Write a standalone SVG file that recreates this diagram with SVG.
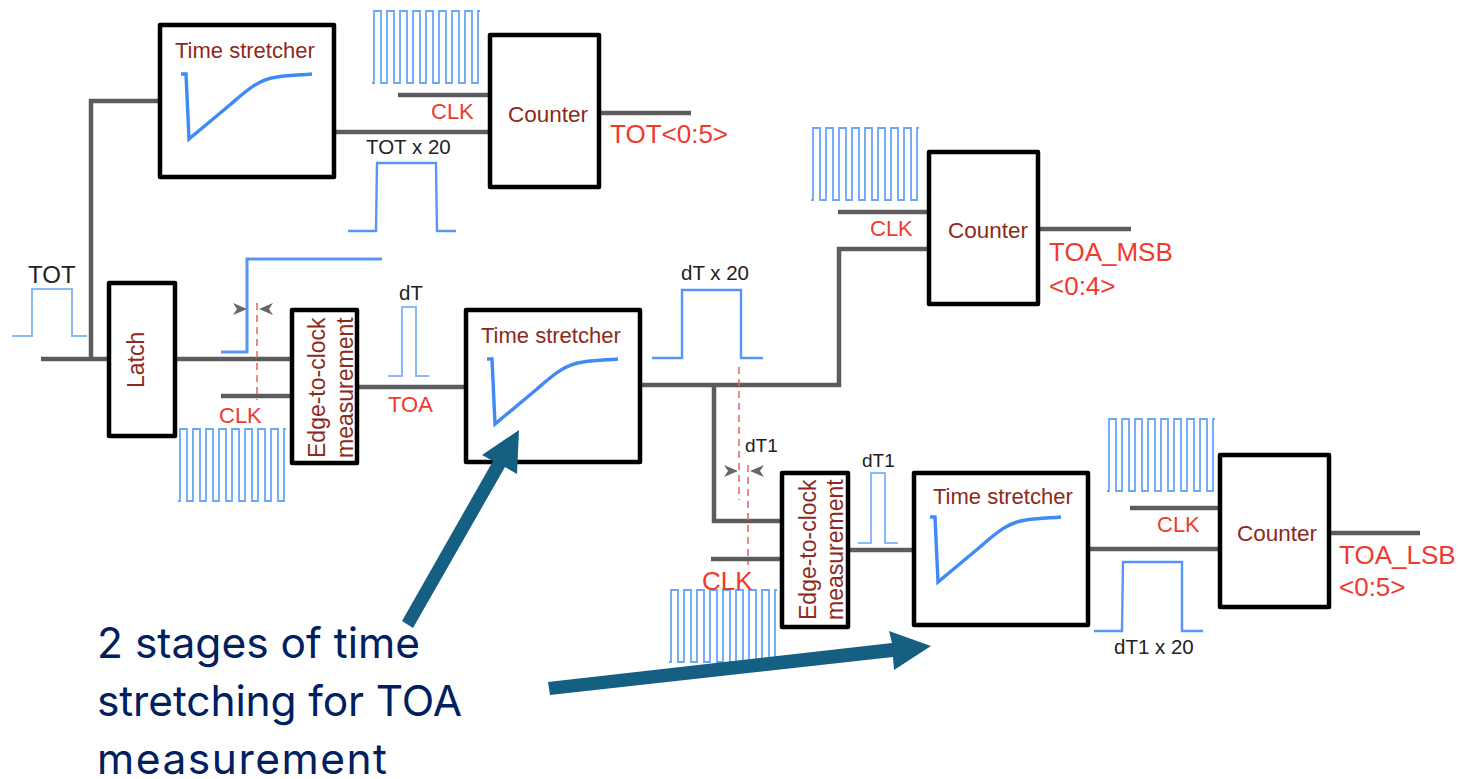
<svg xmlns="http://www.w3.org/2000/svg" width="1459" height="779" viewBox="0 0 1459 779">
<style>
text{font-family:"Liberation Sans",Arial,sans-serif}
.box{fill:#fff;stroke:#000;stroke-width:4.5;stroke-linejoin:round}
.wire{fill:none;stroke:#5c5c5c;stroke-width:4.5}
.wave{fill:none;stroke:#5796f7;stroke-width:2.4}
.thin{fill:none;stroke:#6aa5fa;stroke-width:1.8}
.pale{fill:none;stroke:#8ab8fb;stroke-width:2}
.curve{fill:none;stroke:#3f8af5;stroke-width:3.4}
.dash{fill:none;stroke:#f0625a;stroke-width:1.5;stroke-dasharray:7 5}
.dim{fill:#666}
.lb{fill:#8c2a20;font-size:22px}
.lbv{fill:#8c2a20;font-size:23px}
.red{fill:#f03a2e;font-size:22px}
.redb{fill:#f03a2e;font-size:26px}
.blk{fill:#222;font-size:20.5px}
.call{fill:#002060;font-size:42.5px;font-family:Inter,"Noto Sans",sans-serif}
.big{fill:#156082}
</style>
<defs>
<path id="clk" class="thin" d="M0 72H2V0H9V72H15V0H22V72H28V0H35V72H41V0H48V72H54V0H61V72H67V0H74V72H80V0H87V72H93V0H100V72H106V0H108"/>
<path id="ts" class="curve" d="M0 0H5L8 65L50 30C65 17 78 5 96 3C110 1 120 1 131 0"/>
<path id="ar-r" class="dim" d="M0 -6L14 0L0 6L4 0Z"/>
<path id="ar-l" class="dim" d="M14 -6L0 0L14 6L10 0Z"/>
</defs>
<g id="connectors">
<path class="wire" d="M41 359H109M91 359V101H160"/>
<path class="wire" d="M175 359H292M221 396H292M358 387H466"/>
<path class="wire" d="M334 132H490M398 95H490M599 113H691"/>
<path class="wire" d="M640 385H839V249H929M838 212H929"/>
<path class="wire" d="M1038 229H1131"/>
<path class="wire" d="M714 385V521H782M711 559H782M848 550H914"/>
<path class="wire" d="M1088 549H1220M1130 508H1220M1329 533H1420"/>
</g>
<g id="waves">
<path class="wave" d="M348 231H376L377 163H436L437 231H456"/>
<path class="pale" d="M12 336H32L32 289H72V336H87"/>
<path class="wave" d="M221 352H247V259H382" style="stroke-width:3"/>
<path class="pale" d="M388 376H402V307H416V376H429"/>
<path class="wave" d="M652 358H682V290H741V358H763"/>
<path class="pale" d="M858 543H871V473H885V543H898"/>
<path class="wave" d="M1094 631H1122L1123 562H1182V631H1203"/>
<use href="#clk" x="372" y="11"/>
<use href="#clk" x="811" y="128"/>
<use href="#clk" x="178" y="429"/>
<use href="#clk" x="669" y="590"/>
<use href="#clk" x="1107" y="419"/>
<path class="dash" d="M257 303V400"/>
<path class="dash" d="M739 367V500"/>
<path class="dash" d="M748 465V565"/>
<use href="#ar-r" x="233" y="309"/>
<use href="#ar-l" x="259" y="309"/>
<use href="#ar-r" x="724" y="471"/>
<use href="#ar-l" x="750" y="471"/>
</g>
<g id="ts-top"><rect class="box" x="160" y="25" width="174" height="152"/><text class="lb" x="175" y="58">Time stretcher</text><use href="#ts" x="181" y="74"/></g>
<g id="counter-tot"><rect class="box" x="490" y="35" width="109" height="152"/><text class="lb" style="font-size:22.5px" x="508" y="122">Counter</text></g>
<g id="latch"><rect class="box" x="109" y="283" width="66" height="153"/><text class="lbv" transform="translate(144 388) rotate(-90)">Latch</text></g>
<g id="edge-1"><rect class="box" x="292" y="310" width="65" height="153"/><text class="lbv" transform="translate(325 458) rotate(-90)">Edge-to-clock</text><text class="lbv" transform="translate(353 458) rotate(-90)">measurement</text></g>
<g id="ts-mid"><rect class="box" x="466" y="310" width="174" height="152"/><text class="lb" x="481" y="343">Time stretcher</text><use href="#ts" x="487" y="359"/></g>
<g id="counter-msb"><rect class="box" x="929" y="152" width="109" height="152"/><text class="lb" style="font-size:22.5px" x="948" y="238">Counter</text></g>
<g id="edge-2"><rect class="box" x="782" y="473" width="66" height="154"/><text class="lbv" transform="translate(816 620) rotate(-90)">Edge-to-clock</text><text class="lbv" transform="translate(843 620) rotate(-90)">measurement</text></g>
<g id="ts-low"><rect class="box" x="914" y="473" width="174" height="152"/><text class="lb" x="933" y="504">Time stretcher</text><use href="#ts" x="930" y="517"/></g>
<g id="counter-lsb"><rect class="box" x="1220" y="455" width="109" height="152"/><text class="lb" style="font-size:22.5px" x="1237" y="541">Counter</text></g>
<g id="labels">
<text class="blk" style="font-size:24px" x="28" y="283">TOT</text>
<text class="red" x="431" y="119">CLK</text>
<text class="blk" x="366" y="154">TOT x 20</text>
<text class="redb" x="610" y="143">TOT&lt;0:5&gt;</text>
<text class="red" x="870" y="236">CLK</text>
<text class="redb" x="1049" y="261">TOA_MSB</text>
<text class="redb" x="1049" y="295">&lt;0:4&gt;</text>
<text class="red" x="219" y="423">CLK</text>
<text class="blk" x="399" y="300">dT</text>
<text class="red" x="388" y="412">TOA</text>
<text class="blk" x="681" y="280">dT x 20</text>
<text class="blk" style="font-size:19px" x="745" y="452">dT1</text>
<text class="blk" style="font-size:19px" x="862" y="467">dT1</text>
<text fill="#f03a2e" font-size="26" x="702" y="590">CLK</text>
<text class="red" x="1157" y="532">CLK</text>
<text class="blk" x="1114" y="654">dT1 x 20</text>
<text class="redb" x="1339" y="564">TOA_LSB</text>
<text class="redb" x="1339" y="596">&lt;0:5&gt;</text>
</g>
<g id="callout">
<path class="big" d="M402 621L493 461L482 455L519 430L517 474L505 467L413 628Z"/>
<path class="big" d="M548 682L892 643L889 631L931 646L894 670L893 657L550 695Z"/>
<text class="call" x="97" y="658" textLength="323">2 stages of time</text>
<text class="call" x="97" y="716" textLength="365">stretching for TOA</text>
<text class="call" x="97" y="774" textLength="290">measurement</text>
</g>
</svg>
